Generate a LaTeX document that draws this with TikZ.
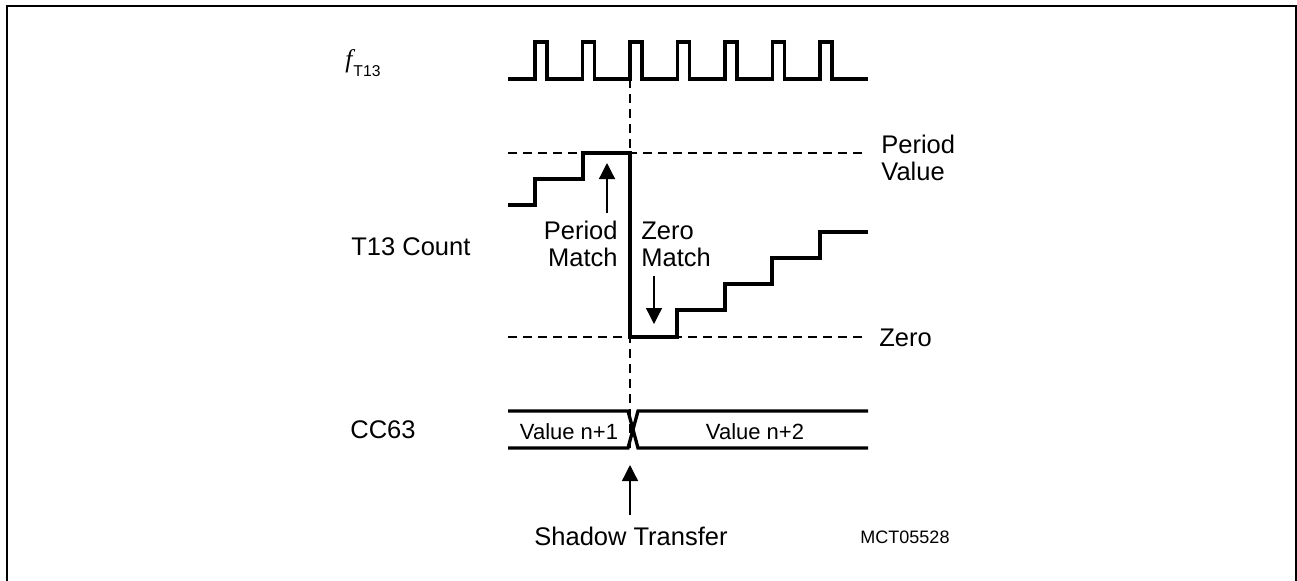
\documentclass[tikz,border=0pt]{standalone}
\usepackage{fontspec}
\setmainfont{Liberation Sans}
\newfontfamily\tnr{Liberation Serif}
\usetikzlibrary{arrows.meta}
\begin{document}
\begin{tikzpicture}[x=0.5pt,y=-0.5pt,
  sig/.style={line width=1.65pt, line join=miter},
  guide/.style={line width=0.75pt, dash pattern=on 4.5pt off 3pt},
  ptr/.style={line width=0.65pt, -{Triangle[width=8pt,length=8pt]}},
  frame/.style={line width=1pt},
  lbl/.style={font=\fontsize{12.75}{13.5}\selectfont, inner sep=0pt},
  val/.style={font=\fontsize{11}{13}\selectfont, inner sep=0pt},
  tag/.style={font=\fontsize{9}{11}\selectfont, inner sep=0pt},
]
\useasboundingbox (0,0) rectangle (1297,580);
% frame
\draw[frame] (7,582) -- (7,6) -- (1296,6) -- (1296,582);

% clock
\draw[sig] (508,79) \foreach \k in {0,...,6} { -- ({535+47.5*\k},79) -- ({535+47.5*\k},42) -- ({547+47.5*\k},42) -- ({547+47.5*\k},79) } -- (868,79);

% guides
\draw[guide] (508,153) -- (868,153);
\draw[guide] (508,337) -- (868,337);
\draw[guide] (630,79) -- (630,450);

% counter
\draw[sig] (508,205) -- (535,205) -- (535,179) -- (583,179) -- (583,153) -- (630,153)
  -- (630,337) -- (677,337) -- (677,310) -- (725,310) -- (725,284) -- (772,284)
  -- (772,258) -- (820,258) -- (820,232) -- (868,232);

% CC63 bus
\draw[sig] (508,411) -- (628,411) -- (638,448) -- (868,448);
\draw[sig] (508,448) -- (628,448) -- (638,411) -- (868,411);

% labels
\node[lbl, anchor=base west] (fclk) at (345,67) {{\tnr\itshape f}\kern0.5pt{\fontsize{7.85}{9}\selectfont\raisebox{-4.5pt}{T13}}};
\node[lbl, anchor=base west] (cnt) at (351,255) {T13 Count};
\node[lbl, anchor=base west] (cc) at (350,438) {CC63};
\node[lbl, anchor=north east, align=right] (pm) at (618,221) {Period\\Match};
\node[lbl, anchor=north west, align=left] (zm) at (641,222) {Zero\\Match};
\node[lbl, anchor=north west, align=left] (pv) at (881,135) {Period\\Value};
\node[lbl, anchor=base west] (zr) at (879,346) {Zero};
\node[val] (v1) at (569,432) {Value n+1};
\node[val] (v2) at (755,432) {Value n+2};
\node[lbl, anchor=base] (st) at (631,545) {Shadow Transfer};
\node[tag, anchor=base] (id) at (905,543) {MCT05528};

% arrows
\coordinate (pmS) at (607,213);
\coordinate (pmE) at (607,163);
\coordinate (zmS) at (654,276);
\coordinate (zmE) at (654,324);
\coordinate (stS) at (630,515);
\coordinate (stE) at (630,465);
\draw[ptr] (pmS) -- (pmE);
\draw[ptr] (zmS) -- (zmE);
\draw[ptr] (stS) -- (stE);
\end{tikzpicture}
\end{document}
